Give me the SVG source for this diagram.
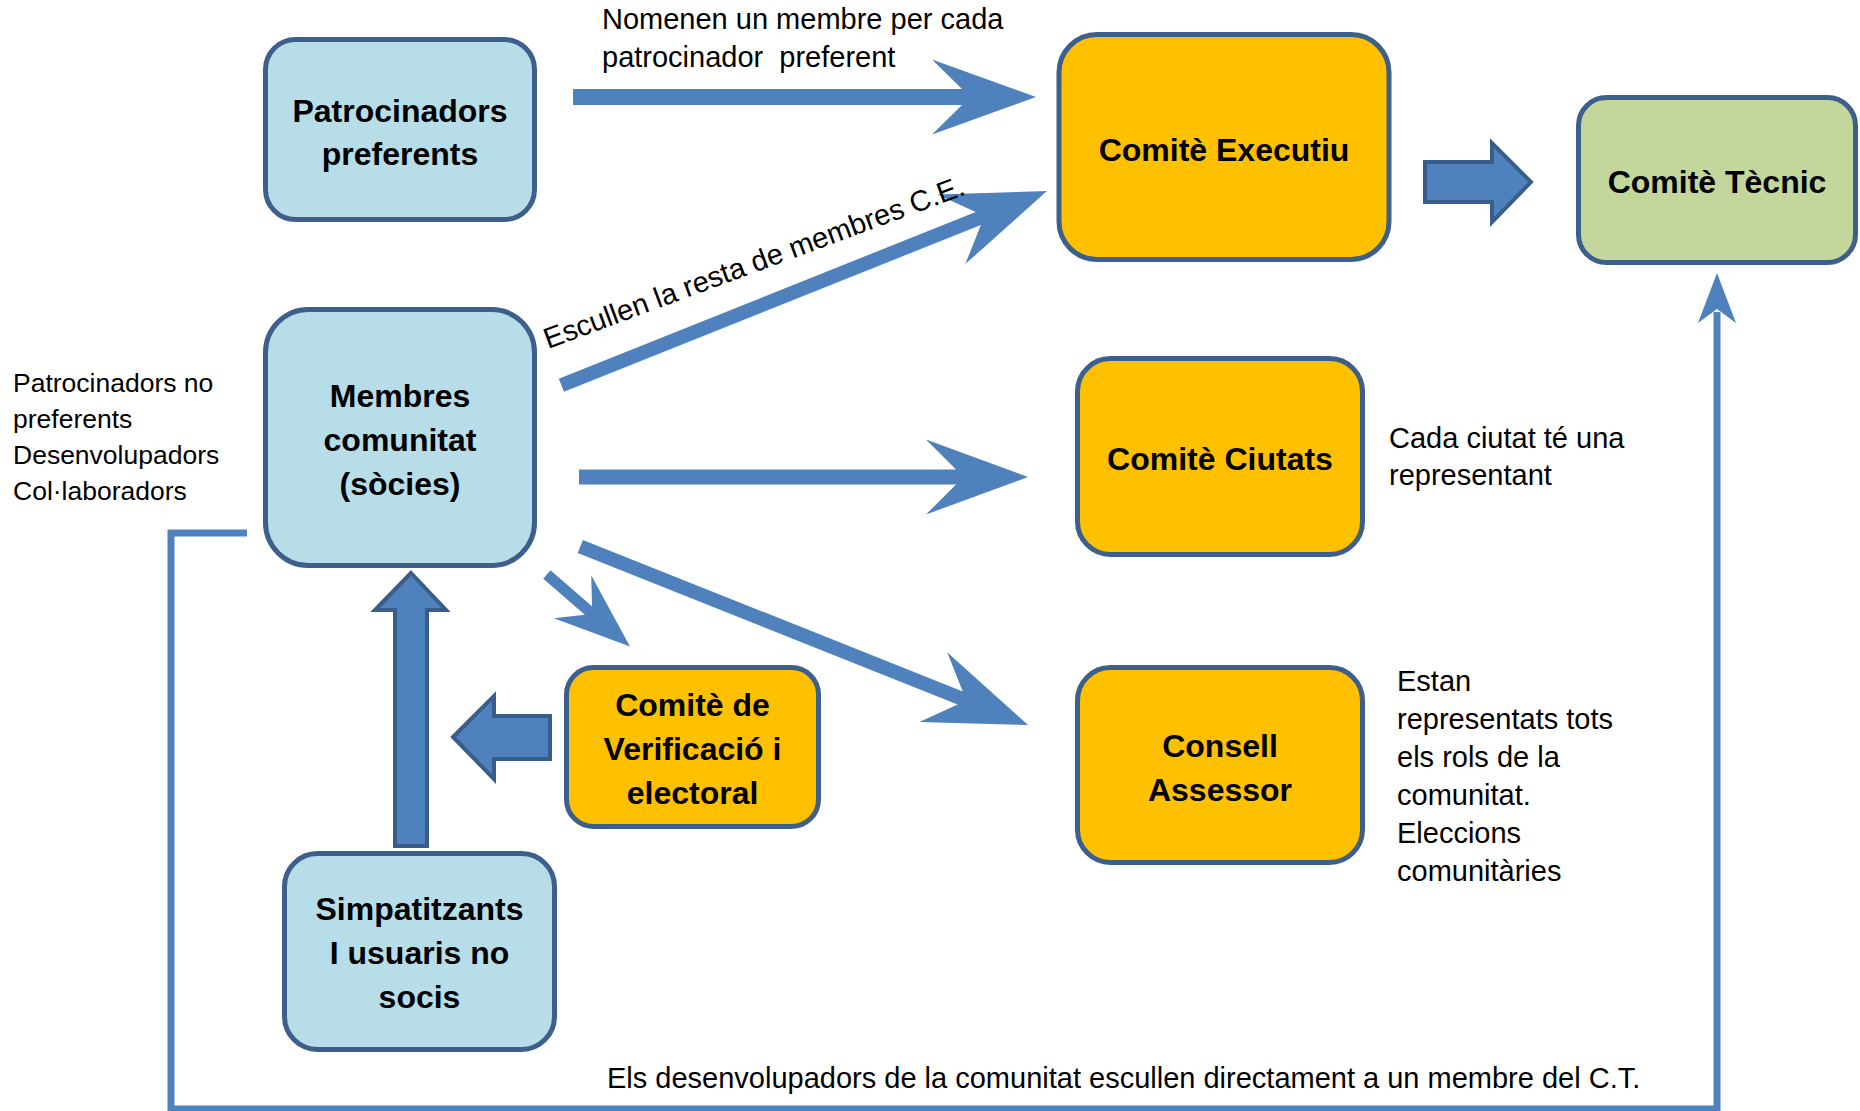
<svg xmlns="http://www.w3.org/2000/svg" width="1860" height="1111" viewBox="0 0 1860 1111">
  <style>
    .box{stroke:#3c5f8b;stroke-width:5}
    .blue{fill:#b7dde8}
    .orange{fill:#ffc000}
    .green{fill:#c3d69b}
    .lbl{font-family:"Liberation Sans",Arial,sans-serif;font-weight:bold;font-size:32px;fill:#000;text-anchor:middle}
    .note{font-family:"Liberation Sans",Arial,sans-serif;font-size:29px;fill:#000}
    .side{font-family:"Liberation Sans",Arial,sans-serif;font-size:26.5px;fill:#000}
    .arr{fill:#4f81bd}
    .blk{fill:#4f81bd;stroke:#385d8a;stroke-width:4;stroke-linejoin:miter}
    .line{fill:none;stroke:#4f81bd;stroke-width:7}
  </style>
  <rect width="1860" height="1111" fill="#ffffff"/>

  <g id="connectors">
    <!-- Patrocinadors -> Comitè Executiu -->
    <path class="arr" d="M-463,-8 H-74 L-104,-37.5 L0,0 L-104,37.5 L-74,8 H-463 Z" transform="translate(1036,97)"/>
    <!-- Membres -> Comitè Executiu -->
    <path class="arr" d="M-523,-7 H-74 L-103,-37.5 L0,0 L-103,37.5 L-74,7 H-523 Z" transform="translate(1047,191) rotate(-21.8)"/>
    <!-- Membres -> Comitè Ciutats -->
    <path class="arr" d="M-449,-7.5 H-72 L-102,-37.5 L0,0 L-102,37.5 L-72,7.5 H-449 Z" transform="translate(1028,477)"/>
    <!-- Membres -> Consell Assessor -->
    <path class="arr" d="M-482,-7 H-73 L-102,-37.5 L0,0 L-102,37.5 L-73,7 H-482 Z" transform="translate(1028,725) rotate(21.75)"/>
    <!-- Membres -> Comitè de Verificació -->
    <path class="arr" d="M-110,-5.5 H-55 L-76,-28.5 L0,0 L-76,28.5 L-55,5.5 H-110 Z" transform="translate(630,646.5) rotate(40.9)"/>
    <!-- Comitè Executiu -> Comitè Tècnic -->
    <polygon class="blk" points="1425,162 1492,162 1492,143 1531,182 1492,222 1492,202 1425,202"/>
    <!-- Simpatitzants -> Membres -->
    <polygon class="blk" points="411,573 446,610 427,610 427,846 395,846 395,610 375,610"/>
    <!-- Verificació -> left -->
    <polygon class="blk" points="453,737 494,696 494,716 550,716 550,759 494,759 494,779"/>
    <!-- Feedback line Membres -> Comitè Tècnic -->
    <polyline class="line" points="247,533 171,533 171,1109 1717,1109 1717,312"/>
    <polygon class="arr" points="1717,273 1736,323 1717,309 1698,323"/>
  </g>

  <g id="node-patrocinadors">
    <rect class="box blue" x="265.5" y="39.5" width="269" height="180" rx="30"/>
    <text class="lbl" x="400" y="122">Patrocinadors</text>
    <text class="lbl" x="400" y="165">preferents</text>
  </g>
  <g id="node-executiu">
    <rect class="box orange" x="1059" y="34.5" width="330" height="225" rx="38"/>
    <text class="lbl" x="1224" y="161">Comitè Executiu</text>
  </g>
  <g id="node-tecnic">
    <rect class="box green" x="1578.5" y="97.5" width="277" height="165" rx="28"/>
    <text class="lbl" x="1717" y="193">Comitè Tècnic</text>
  </g>
  <g id="node-membres">
    <rect class="box blue" x="265.5" y="309.5" width="269" height="256" rx="43"/>
    <text class="lbl" x="400" y="407">Membres</text>
    <text class="lbl" x="400" y="451">comunitat</text>
    <text class="lbl" x="400" y="495">(sòcies)</text>
  </g>
  <g id="node-ciutats">
    <rect class="box orange" x="1077.5" y="358.5" width="285" height="196" rx="33"/>
    <text class="lbl" x="1220" y="470">Comitè Ciutats</text>
  </g>
  <g id="node-consell">
    <rect class="box orange" x="1077.5" y="667.5" width="285" height="195" rx="33"/>
    <text class="lbl" x="1220" y="757">Consell</text>
    <text class="lbl" x="1220" y="801">Assessor</text>
  </g>
  <g id="node-verificacio">
    <rect class="box orange" x="566.5" y="667.5" width="252" height="159" rx="27"/>
    <text class="lbl" x="692.5" y="716">Comitè de</text>
    <text class="lbl" x="692.5" y="760">Verificació i</text>
    <text class="lbl" x="692.5" y="804">electoral</text>
  </g>
  <g id="node-simpatitzants">
    <rect class="box blue" x="284.5" y="853.5" width="270" height="196" rx="33"/>
    <text class="lbl" x="419.5" y="920">Simpatitzants</text>
    <text class="lbl" x="419.5" y="964">I usuaris no</text>
    <text class="lbl" x="419.5" y="1008">socis</text>
  </g>

  <g id="annotations">
    <text class="note" x="602" y="29">Nomenen un membre per cada</text>
    <text class="note" x="602" y="67" xml:space="preserve">patrocinador  preferent</text>
    <text class="note" font-size="27.6" transform="translate(548,349) rotate(-20.3)">Escullen la resta de membres C.E.</text>
    <text class="side" x="13" y="392">Patrocinadors no</text>
    <text class="side" x="13" y="428">preferents</text>
    <text class="side" x="13" y="464">Desenvolupadors</text>
    <text class="side" x="13" y="500">Col·laboradors</text>
    <text class="note" x="1389" y="448">Cada ciutat té una</text>
    <text class="note" x="1389" y="485">representant</text>
    <text class="note" x="1397" y="691">Estan</text>
    <text class="note" x="1397" y="729">representats tots</text>
    <text class="note" x="1397" y="767">els rols de la</text>
    <text class="note" x="1397" y="805">comunitat.</text>
    <text class="note" x="1397" y="843">Eleccions</text>
    <text class="note" x="1397" y="881">comunitàries</text>
    <text class="note" x="607" y="1088">Els desenvolupadors de la comunitat escullen directament a un membre del C.T.</text>
  </g>
</svg>
